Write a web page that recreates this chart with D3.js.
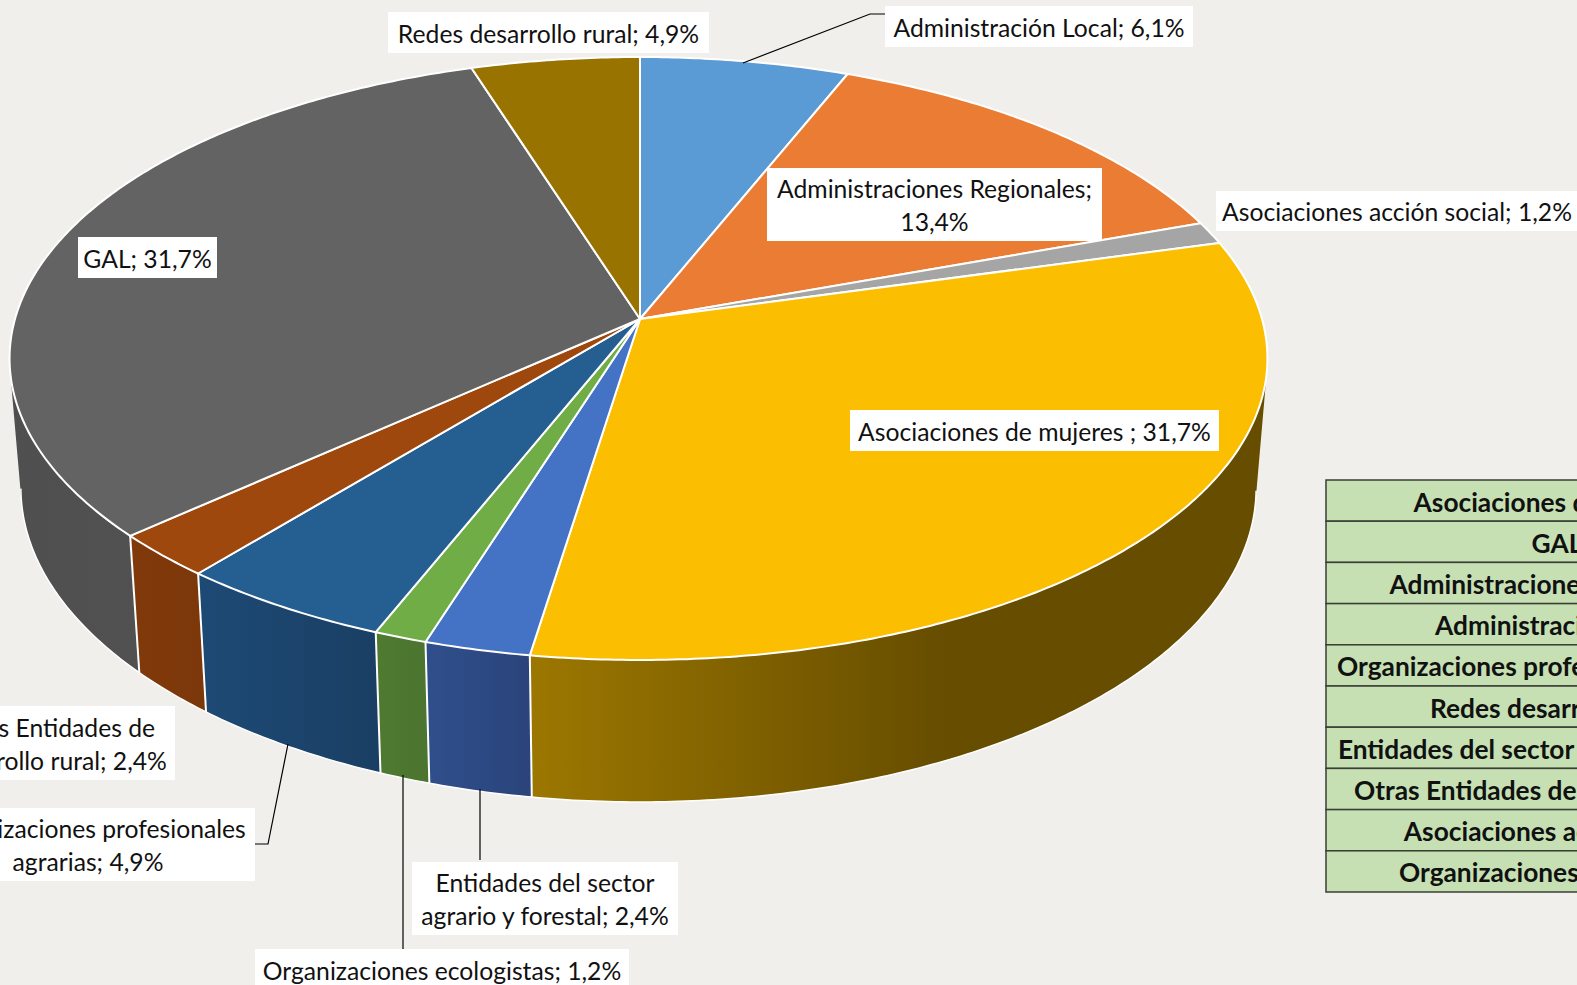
<!DOCTYPE html>
<html>
<head>
<meta charset="utf-8">
<script src="https://d3js.org/d3.v7.min.js"></script>
<style>
  html, body { margin: 0; padding: 0; background: #f0efeb; overflow: hidden; }
  svg { display: block; }
  text { font-family: Lato, "Open Sans", sans-serif; fill: #111; }
</style>
</head>
<body>
<svg id="chart" width="1577" height="985"></svg>
<script>
// data, clockwise from the top of the pie
const categories = ["Administración Local", "Administraciones Regionales", "Asociaciones acción social",
  "Asociaciones de mujeres ", "Entidades del sector agrario y forestal", "Organizaciones ecologistas",
  "Organizaciones profesionales agrarias", "Otras Entidades de desarrollo rural", "GAL", "Redes desarrollo rural"]
const shares = [6.1, 13.4, 1.2, 31.7, 2.4, 1.2, 4.9, 2.4, 31.7, 4.9]

// table on the right, sorted as in the original
const tableRows = ["Asociaciones de mujeres", "GAL", "Administraciones Regionales", "Administración Local",
  "Organizaciones profesionales agrarias", "Redes desarrollo rural", "Entidades del sector agrario y forestal",
  "Otras Entidades de desarrollo rural", "Asociaciones acción social", "Organizaciones ecologistas"]

// styles
const topColors = ["#5b9bd5", "#eb7c33", "#a5a5a5", "#fbbe00", "#4472c4", "#70ad47", "#255e91", "#9e480e", "#636363", "#997300"]
const wallFrom = ["#3f6f9c", "#a9591f", "#767676", "#9c7700", "#2f4f8c", "#4f7a30", "#1d4a75", "#81390a", "#4f4f4f", "#6e5300"]
const wallTo = ["#3f6f9c", "#a9591f", "#767676", "#664d00", "#2b447b", "#4b7530", "#1a3f64", "#7c380b", "#565656", "#6e5300"]

const width = 1577
const height = 985
const svg = d3.select("#chart")

// perspective of the disc: the apex sits above the centre of the ellipse
const cx = 640, cy = 319
const rxRight = 622, rxLeft = 625, ry = 296.3, persp = 0.131
const wallDrop = 128, wallSx = 0.982, wallSy = 1.041

function topPoint(a) {
  const X = Math.sin(a), Y = Math.cos(a), w = 1 + persp * Y
  return [cx + (X < 0 ? rxLeft : rxRight) * X / w, cy - ry * Y / w]
}
function bottomPoint(a) {
  const p = topPoint(a)
  return [cx + (p[0] - cx) * wallSx, cy + (p[1] - cy) * wallSy + wallDrop]
}
function arcAngles(d) {
  const n = Math.max(2, Math.ceil((d.endAngle - d.startAngle) / 0.01))
  return d3.range(n + 1).map(i => d.startAngle + (d.endAngle - d.startAngle) * i / n)
}

const pie = d3.pie().sort(null).value(d => d)
const slices = pie(shares)
const line = d3.line()

svg.append("rect").attr("width", width).attr("height", height).attr("fill", "#f0efeb")

// gradients for the walls
const defs = svg.append("defs")
slices.forEach((d, i) => {
  const xs = arcAngles(d).map(a => topPoint(a)[0])
  let x1 = d3.min(xs), x2 = d3.max(xs)
  // the yellow wall stops darkening about two thirds of the way
  if (i == 3) x2 = 945
  const g = defs.append("linearGradient").attr("id", "wall" + i)
    .attr("gradientUnits", "userSpaceOnUse")
    .attr("x1", x1).attr("x2", x2).attr("y1", 0).attr("y2", 0)
  g.append("stop").attr("offset", 0).attr("stop-color", wallFrom[i])
  g.append("stop").attr("offset", 1).attr("stop-color", wallTo[i])
})

// walls, far ones first
const order = d3.range(slices.length).sort((a, b) =>
  Math.cos((slices[b].startAngle + slices[b].endAngle) / 2) * -1 - Math.cos((slices[a].startAngle + slices[a].endAngle) / 2) * -1)
const wallG = svg.append("g")
order.forEach(i => {
  const d = slices[i]
  const angles = arcAngles(d)
  // one path made of small quads, all wound the same way so overlaps near the sides don't cancel
  let path = ""
  for (let k = 0; k < angles.length - 1; k++) {
    const quad = [topPoint(angles[k]), topPoint(angles[k + 1]), bottomPoint(angles[k + 1]), bottomPoint(angles[k])]
    if (d3.polygonArea(quad) < 0) quad.reverse()
    path += line(quad) + "Z"
  }
  wallG.append("path").attr("d", path).attr("fill", `url(#wall${i})`).attr("stroke", "none")
})
// white edges go on after all the fills, only on the front part of the bottom rim
order.forEach(i => {
  const d = slices[i]
  const front = arcAngles(d).filter(a => Math.cos(a) < -0.13)
  if (front.length < 2) return
  wallG.append("path").attr("d", line(front.map(bottomPoint)))
    .attr("fill", "none").attr("stroke", "#fff").attr("stroke-width", 1.5)
  if (Math.cos(d.startAngle) < -0.13) {
    wallG.append("path").attr("d", line([topPoint(d.startAngle), bottomPoint(d.startAngle)]))
      .attr("stroke", "#fff").attr("stroke-width", 2)
  }
})

// top face
svg.append("g").selectAll("path")
  .data(slices)
  .enter()
  .append("path")
  .attr("d", d => line([[cx, cy]].concat(arcAngles(d).map(topPoint))) + "Z")
  .attr("fill", (d, i) => topColors[i])
  .attr("stroke", "#fff")
  .attr("stroke-width", 2)
  .attr("stroke-linejoin", "round")

// table, it runs off the right edge of the picture
const tableLeft = 1326, tableTop = 480, rowH = 41.2
const rowY = d3.scaleBand().domain(tableRows).range([tableTop, tableTop + rowH * tableRows.length])
const tableG = svg.append("g")
tableG.selectAll("rect").data(tableRows).enter().append("rect")
  .attr("x", tableLeft).attr("y", d => rowY(d))
  .attr("width", width - tableLeft + 20).attr("height", rowH)
  .attr("fill", "#c6e0b4").attr("stroke", "#3a3f36").attr("stroke-width", 1.5)
tableG.selectAll("text").data(tableRows).enter().append("text")
  .attr("x", 1557).attr("y", d => rowY(d) + rowH / 2 + 11)
  .attr("text-anchor", "middle")
  .attr("font-weight", 700).attr("font-size", 26.3)
  .text(d => d)

// leader lines
const leaders = [
  [[885, 14], [870, 14], [743, 63]],
  [[255, 844], [268, 844], [288, 744]],
  [[480, 789], [480, 860]],
  [[403, 775], [403, 949]]
]
svg.append("g").selectAll("path").data(leaders).enter().append("path")
  .attr("d", d => line(d)).attr("fill", "none").attr("stroke", "#000").attr("stroke-width", 1.2)

// data labels: box and text lines
const labelText = [
  ["Administración Local; 6,1%"],
  ["Administraciones Regionales;", "13,4%"],
  ["Asociaciones acción social; 1,2%"],
  ["Asociaciones de mujeres ; 31,7%"],
  ["Entidades del sector", "agrario y forestal; 2,4%"],
  ["Organizaciones ecologistas; 1,2%"],
  ["Organizaciones profesionales", "agrarias; 4,9%"],
  ["Otras Entidades de", "desarrollo rural; 2,4%"],
  ["GAL; 31,7%"],
  ["Redes desarrollo rural; 4,9%"]
]
const labelBox = [
  [885, 6, 1193, 47], [767, 168, 1102, 241], [1216, 191, 1590, 231], [850, 410, 1219, 451], [412, 862, 678, 935],
  [255, 949, 629, 990], [-100, 808, 255, 881], [-100, 706, 175, 780], [78, 237, 217, 278], [388, 12, 709, 53]
]
const labelCx = [1039, 934.5, 1397, 1034.5, 545, 442, 88, 52, 147.5, 548.5]
const fontSize = 24.7, lineH = 33

const labelG = svg.append("g").selectAll("g").data(labelText).enter().append("g")
labelG.append("rect")
  .attr("x", (d, i) => labelBox[i][0]).attr("y", (d, i) => labelBox[i][1])
  .attr("width", (d, i) => labelBox[i][2] - labelBox[i][0])
  .attr("height", (d, i) => labelBox[i][3] - labelBox[i][1])
  .attr("fill", "#fff")
labelG.each(function(d, i) {
  const mid = (labelBox[i][1] + labelBox[i][3]) / 2
  d.forEach((t, k) => {
    d3.select(this).append("text")
      .attr("x", labelCx[i])
      .attr("y", mid + (k - (d.length - 1) / 2) * lineH + 10)
      .attr("text-anchor", "middle")
      .attr("font-size", fontSize)
      .text(t)
  })
})
</script>
</body>
</html>
